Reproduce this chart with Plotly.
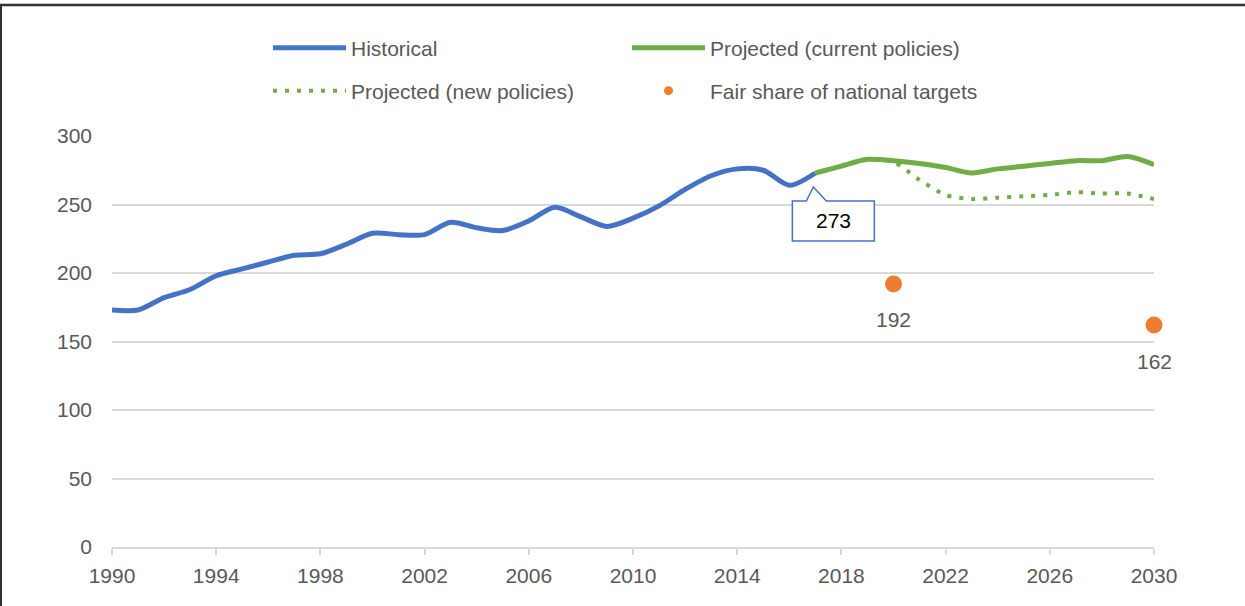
import plotly.graph_objects as go

# data
hist_years = list(range(1990, 2018))
hist_values = [173, 173, 182, 188, 198, 203, 208, 213, 214, 221, 229, 228, 228, 237,
               233, 231, 238, 248, 241, 234, 240, 249, 261, 271, 276, 275, 264, 273]

proj_years = list(range(2017, 2031))
current_policies = [273, 278, 283, 282, 280, 277, 273, 276, 278, 280, 282, 282, 285, 279]
new_policies = [273, 278, 283, 281, 268, 257, 254, 255, 256, 257, 259, 258, 258, 254]

target_years = [2020, 2030]
target_values = [192, 162]

x_ticks = list(range(1990, 2031, 4))
y_ticks = [0, 50, 100, 150, 200, 250, 300]

BLUE = "#4472C4"
GREEN = "#70AD47"
ORANGE = "#ED7D31"
GREY_TXT = "#595959"
GRID = "#D9D9D9"
FONT = "Liberation Sans, Arial, sans-serif"

W, H = 1245, 606
ML, MR, MT, MB = 112, 91, 136, 59
PW, PH = W - ML - MR, H - MT - MB
X0, X1 = 1990, 2030
Y0, Y1 = 0, 300
yr_per_px = (X1 - X0) / PW
val_per_px = (Y1 - Y0) / PH


def px_to_paper_x(p):
    return (p - ML) / PW


def px_to_paper_y(p):
    return (H - MB - p) / PH


fig = go.Figure()

fig.add_trace(go.Scatter(x=hist_years, y=hist_values, mode="lines", name="Historical",
                         line=dict(color=BLUE, width=5, shape="spline", smoothing=0.8),
                         legend="legend"))
fig.add_trace(go.Scatter(x=proj_years, y=current_policies, mode="lines",
                         name="Projected (current policies)",
                         line=dict(color=GREEN, width=5, shape="spline", smoothing=0.8),
                         legend="legend"))
fig.add_trace(go.Scatter(x=proj_years, y=new_policies, mode="lines",
                         name="Projected (new policies)",
                         line=dict(color=GREEN, width=4, dash="4px,8px", shape="spline", smoothing=0.8),
                         legend="legend2"))
fig.add_trace(go.Scatter(x=target_years, y=target_values, mode="markers",
                         marker=dict(color=ORANGE, size=17), showlegend=False, cliponaxis=False))
# legend-only entry so the legend dot stays small
fig.add_trace(go.Scatter(x=[None], y=[None], mode="markers", name="Fair share of national targets",
                         marker=dict(color=ORANGE, size=9), legend="legend2"))

# value labels under the target points
annotations = []
for yr, v in zip(target_years, target_values):
    annotations.append(dict(x=yr, y=v, text=str(v), showarrow=False, yshift=-36,
                            font=dict(size=21, color=GREY_TXT, family=FONT)))

# callout for the last historical value
ax, ay = hist_years[-1], hist_values[-1]


def off(dx, dy):
    return ax + dx * yr_per_px, ay - dy * val_per_px


pts = [off(-23, 28), off(-9, 28), off(-2, 14), off(11, 28), off(59, 28), off(59, 68), off(-23, 68)]
path = "M " + " L ".join(f"{x},{y}" for x, y in pts) + " Z"
shapes = [dict(type="path", path=path, xref="x", yref="y", fillcolor="white",
               line=dict(color=BLUE, width=1.5), layer="above")]
annotations.append(dict(x=ax, y=ay, text=str(ay), showarrow=False, xshift=18, yshift=-48,
                        font=dict(size=21, color="black", family=FONT)))

# outer frame lines (top and left)
shapes.append(dict(type="line", xref="paper", yref="paper",
                   x0=px_to_paper_x(0), x1=px_to_paper_x(W), y0=px_to_paper_y(5), y1=px_to_paper_y(5),
                   line=dict(color="#333333", width=2.5)))
shapes.append(dict(type="line", xref="paper", yref="paper",
                   x0=px_to_paper_x(1), x1=px_to_paper_x(1), y0=px_to_paper_y(5), y1=px_to_paper_y(H),
                   line=dict(color="#333333", width=2)))

legend_style = dict(orientation="h", xanchor="left", yanchor="middle", entrywidth=271,
                    entrywidthmode="pixels", itemwidth=73, bgcolor="rgba(0,0,0,0)",
                    font=dict(size=21, color=GREY_TXT, family=FONT), tracegroupgap=0)

fig.update_layout(
    width=W, height=H,
    margin=dict(l=ML, r=MR, t=MT, b=MB),
    paper_bgcolor="white", plot_bgcolor="white",
    font=dict(family=FONT, size=21, color=GREY_TXT),
    legend=dict(x=px_to_paper_x(268), y=px_to_paper_y(48), **legend_style),
    legend2=dict(x=px_to_paper_x(268), y=px_to_paper_y(91), **legend_style),
    shapes=shapes,
    annotations=annotations,
    xaxis=dict(range=[X0, X1], tickvals=x_ticks, showgrid=False, zeroline=False,
               showline=True, linecolor=GRID, linewidth=1.5,
               ticks="outside", ticklen=6, tickwidth=1.5, tickcolor=GRID,
               ticklabelstandoff=3, tickfont=dict(size=21, color=GREY_TXT)),
    yaxis=dict(range=[Y0, Y1], tickvals=y_ticks, showgrid=True, gridcolor=GRID, gridwidth=1.5,
               zeroline=False, showline=False, ticks="", ticklabelstandoff=19,
               tickfont=dict(size=21, color=GREY_TXT)),
    showlegend=True,
)

# drop the browser's default page margin so the figure sits at the window origin
fig.write_html("out.html", config={"displayModeBar": False},
               post_script="document.body.style.margin='0';")
